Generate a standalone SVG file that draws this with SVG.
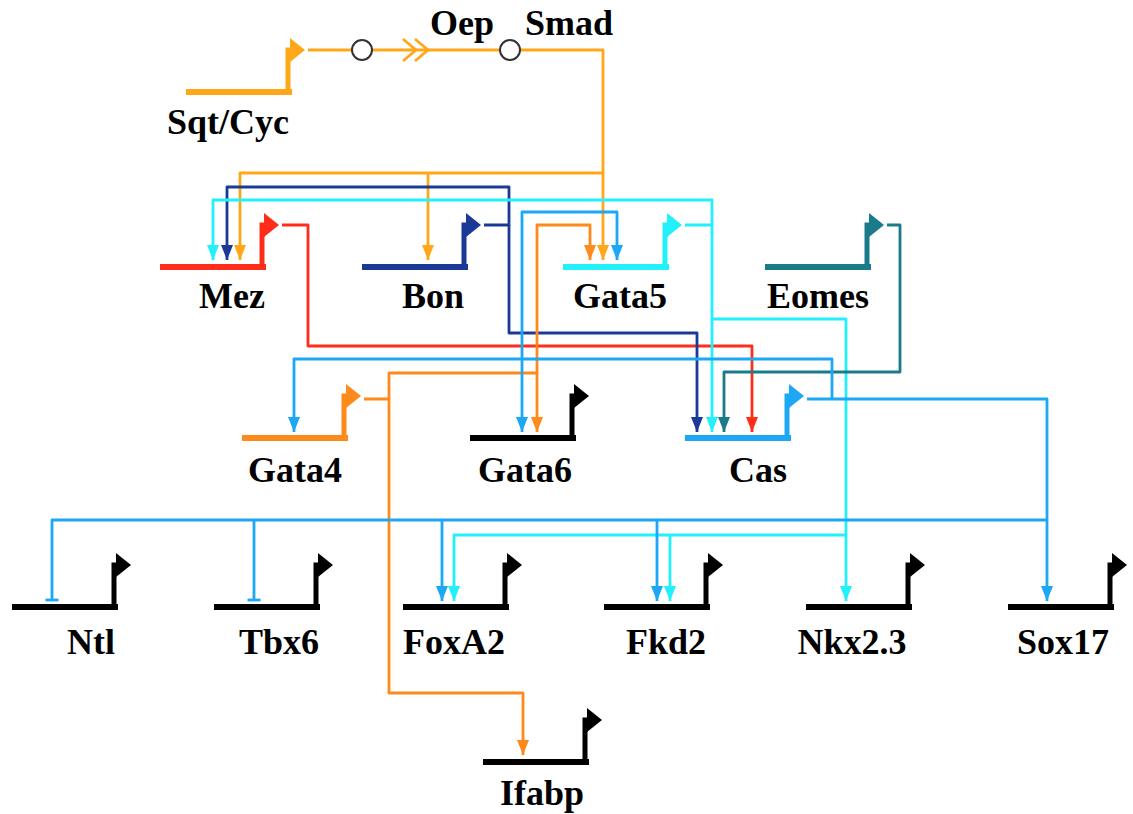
<svg xmlns="http://www.w3.org/2000/svg" xmlns:xlink="http://www.w3.org/1999/xlink" width="1133" height="814" viewBox="0 0 1133 814">
<style>
  .lbl { font-family: "Liberation Serif", "Times New Roman", serif; font-weight: bold; font-size: 36px; fill: #000; stroke: none; text-anchor: middle; }
  .c { fill: none; stroke-width: 2.8; stroke-linejoin: round; }
  .sqt { stroke: #FFA719; color: #FFA719; }
  .red { stroke: #FF2D1A; color: #FF2D1A; }
  .navy { stroke: #1B3A97; color: #1B3A97; }
  .cyan { stroke: #22F0FA; color: #22F0FA; }
  .teal { stroke: #1A7B8B; color: #1A7B8B; }
  .blue { stroke: #1CA8F4; color: #1CA8F4; }
  .org { stroke: #FF8A1C; color: #FF8A1C; }
  .blk { color: #000; }
  .node { fill: #fff; stroke: #333; stroke-width: 2; }
</style>
<defs>
  <g id="promoter" stroke="none">
    <path d="M0 0 H106" fill="none" stroke="currentColor" stroke-width="6"/>
    <path d="M102 2 V-42 H106" fill="none" stroke="currentColor" stroke-width="5"/>
    <path d="M104 -54 L119 -42 L104 -30 Z" fill="currentColor"/>
  </g>
  <marker id="a-sqt" markerUnits="userSpaceOnUse" markerWidth="16" markerHeight="14" refX="15" refY="7" orient="auto"><path d="M0 1 L15 7 L0 13 Z" fill="#FFA719"/></marker>
  <marker id="a-red" markerUnits="userSpaceOnUse" markerWidth="16" markerHeight="14" refX="15" refY="7" orient="auto"><path d="M0 1 L15 7 L0 13 Z" fill="#FF2D1A"/></marker>
  <marker id="a-navy" markerUnits="userSpaceOnUse" markerWidth="16" markerHeight="14" refX="15" refY="7" orient="auto"><path d="M0 1 L15 7 L0 13 Z" fill="#1B3A97"/></marker>
  <marker id="a-cyan" markerUnits="userSpaceOnUse" markerWidth="16" markerHeight="14" refX="15" refY="7" orient="auto"><path d="M0 1 L15 7 L0 13 Z" fill="#22F0FA"/></marker>
  <marker id="a-teal" markerUnits="userSpaceOnUse" markerWidth="16" markerHeight="14" refX="15" refY="7" orient="auto"><path d="M0 1 L15 7 L0 13 Z" fill="#1A7B8B"/></marker>
  <marker id="a-blue" markerUnits="userSpaceOnUse" markerWidth="16" markerHeight="14" refX="15" refY="7" orient="auto"><path d="M0 1 L15 7 L0 13 Z" fill="#1CA8F4"/></marker>
  <marker id="a-org" markerUnits="userSpaceOnUse" markerWidth="16" markerHeight="14" refX="15" refY="7" orient="auto"><path d="M0 1 L15 7 L0 13 Z" fill="#FF8A1C"/></marker>
  <marker id="t-blue" markerUnits="userSpaceOnUse" markerWidth="4" markerHeight="16" refX="2" refY="8" orient="auto"><path d="M2 1.5 V14.5" stroke="#1CA8F4" stroke-width="2.8"/></marker>
</defs>
<rect width="1133" height="814" fill="#fff"/>

<g id="connectors">
  <!-- Sqt/Cyc signalling pathway -->
  <path class="c sqt" d="M308 50 H352"/>
  <path class="c sqt" d="M372 50 H500"/>
  <path class="c sqt" d="M403 39 L416 50 L403 61 M415 39 L428 50 L415 61"/>
  <path class="c sqt" d="M520 50 H603 V260" marker-end="url(#a-sqt)"/>
  <path class="c sqt" d="M603 173 H240 V260" marker-end="url(#a-sqt)"/>
  <path class="c sqt" d="M428 173 V260" marker-end="url(#a-sqt)"/>
  <!-- Mez -> Cas -->
  <path class="c red" d="M282 225 H308 V346 H752 V432" marker-end="url(#a-red)"/>
  <!-- Bon -> Mez, Cas -->
  <path class="c navy" d="M484 225 H509 V187 H227 V260" marker-end="url(#a-navy)"/>
  <path class="c navy" d="M509 225 V333 H697 V432" marker-end="url(#a-navy)"/>
  <!-- Gata5 outputs -->
  <path class="c cyan" d="M685 225 H712 V200 H213 V260" marker-end="url(#a-cyan)"/>
  <path class="c cyan" d="M712 225 V432" marker-end="url(#a-cyan)"/>
  <path class="c cyan" d="M712 319 H846 V601" marker-end="url(#a-cyan)"/>
  <path class="c cyan" d="M846 535 H454 V601" marker-end="url(#a-cyan)"/>
  <path class="c cyan" d="M670 535 V601" marker-end="url(#a-cyan)"/>
  <!-- Eomes -> Cas -->
  <path class="c teal" d="M887 225 H900 V372 H724 V432" marker-end="url(#a-teal)"/>
  <!-- Gata4 outputs -->
  <path class="c org" d="M364 399 H389 V373 H537 V225 H590 V260" marker-end="url(#a-org)"/>
  <path class="c org" d="M537 373 V432" marker-end="url(#a-org)"/>
  <path class="c org" d="M389 399 V693 H523 V755" marker-end="url(#a-org)"/>
  <!-- Cas outputs -->
  <path class="c blue" d="M807 399 H1047 V601" marker-end="url(#a-blue)"/>
  <path class="c blue" d="M832 399 V359 H294 V432" marker-end="url(#a-blue)"/>
  <path class="c blue" d="M522 359 V212 H617 V260" marker-end="url(#a-blue)"/>
  <path class="c blue" d="M522 359 V432" marker-end="url(#a-blue)"/>
  <path class="c blue" d="M1047 520 H52 V600" marker-end="url(#t-blue)"/>
  <path class="c blue" d="M254 520 V600" marker-end="url(#t-blue)"/>
  <path class="c blue" d="M442 520 V601" marker-end="url(#a-blue)"/>
  <path class="c blue" d="M657 520 V601" marker-end="url(#a-blue)"/>
  <circle class="node" cx="362" cy="50" r="10"/>
  <circle class="node" cx="510" cy="50" r="10"/>
</g>

<g id="sqtcyc" class="sqt"><use xlink:href="#promoter" transform="translate(186,92)"/><text class="lbl" x="228" y="134">Sqt/Cyc</text></g>
<g id="oep"><text class="lbl" x="462" y="35">Oep</text></g>
<g id="smad"><text class="lbl" x="569" y="35">Smad</text></g>
<g id="mez" class="red"><use xlink:href="#promoter" transform="translate(160,267)"/><text class="lbl" x="232" y="308">Mez</text></g>
<g id="bon" class="navy"><use xlink:href="#promoter" transform="translate(362,267)"/><text class="lbl" x="433" y="308">Bon</text></g>
<g id="gata5" class="cyan"><use xlink:href="#promoter" transform="translate(563,267)"/><text class="lbl" x="620" y="308">Gata5</text></g>
<g id="eomes" class="teal"><use xlink:href="#promoter" transform="translate(765,267)"/><text class="lbl" x="818" y="308">Eomes</text></g>
<g id="gata4" class="org"><use xlink:href="#promoter" transform="translate(242,438)"/><text class="lbl" x="295" y="482">Gata4</text></g>
<g id="gata6" class="blk"><use xlink:href="#promoter" transform="translate(470,438)"/><text class="lbl" x="525" y="482">Gata6</text></g>
<g id="cas" class="blue"><use xlink:href="#promoter" transform="translate(685,438)"/><text class="lbl" x="758" y="482">Cas</text></g>
<g id="ntl" class="blk"><use xlink:href="#promoter" transform="translate(12,607)"/><text class="lbl" x="91" y="654">Ntl</text></g>
<g id="tbx6" class="blk"><use xlink:href="#promoter" transform="translate(214,607)"/><text class="lbl" x="279" y="654">Tbx6</text></g>
<g id="foxa2" class="blk"><use xlink:href="#promoter" transform="translate(403,607)"/><text class="lbl" x="454" y="654">FoxA2</text></g>
<g id="fkd2" class="blk"><use xlink:href="#promoter" transform="translate(604,607)"/><text class="lbl" x="666" y="654">Fkd2</text></g>
<g id="nkx23" class="blk"><use xlink:href="#promoter" transform="translate(806,607)"/><text class="lbl" x="852" y="654">Nkx2.3</text></g>
<g id="sox17" class="blk"><use xlink:href="#promoter" transform="translate(1008,607)"/><text class="lbl" x="1063" y="654">Sox17</text></g>
<g id="ifabp" class="blk"><use xlink:href="#promoter" transform="translate(483,762)"/><text class="lbl" x="542" y="805">Ifabp</text></g>
</svg>
